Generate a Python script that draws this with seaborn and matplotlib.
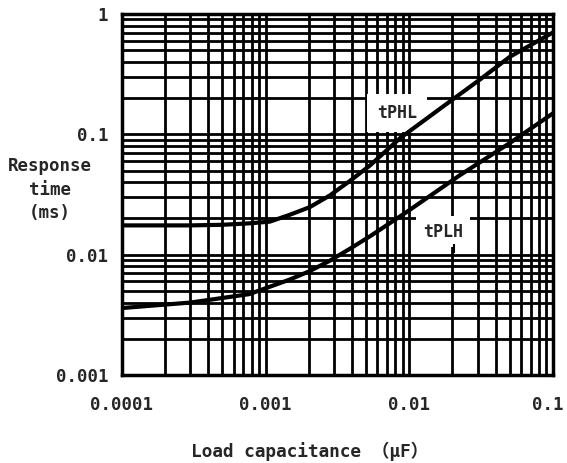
import matplotlib
matplotlib.use("Agg")
import matplotlib.pyplot as plt
import matplotlib.ticker as mticker
import matplotlib.transforms as mtransforms
import seaborn as sns
import pandas as pd
import numpy as np

# Data
tphl_x = [1e-4, 3e-4, 5e-4, 7.7e-4, 1.07e-3, 1.47e-3, 2.03e-3, 2.8e-3, 3.87e-3,
          5.33e-3, 8.65e-3, 1.64e-2, 3.11e-2, 5.02e-2, 0.1]
tphl_y = [0.0175, 0.0175, 0.0177, 0.0182, 0.0188, 0.0214, 0.0248, 0.031, 0.041,
          0.055, 0.093, 0.163, 0.285, 0.44, 0.70]
tplh_x = [1e-4, 3e-4, 7.7e-4, 1.47e-3, 2.03e-3, 2.8e-3, 3.87e-3, 5.33e-3, 9.6e-3,
          2.26e-2, 5.02e-2, 0.1]
tplh_y = [0.0036, 0.0040, 0.0047, 0.0062, 0.0073, 0.0089, 0.0112, 0.0142, 0.0226,
          0.0458, 0.0846, 0.149]
series_names = ["tPHL", "tPLH"]
x_ticks = [0.0001, 0.001, 0.01, 0.1]
x_tick_labels = ["0.0001", "0.001", "0.01", "0.1"]
y_ticks = [0.001, 0.01, 0.1, 1]
y_tick_labels = ["0.001", "0.01", "0.1", "1"]

# annotation positions (layout)
tphl_label_pos = (0.0082, 0.149)
tplh_label_pos = (0.0172, 0.0155)
tplh_leader_x = 0.0205
tplh_leader_y = (0.0104, 0.0123)

df = pd.concat([
    pd.DataFrame({"C": tphl_x, "t": tphl_y, "s": series_names[0]}),
    pd.DataFrame({"C": tplh_x, "t": tplh_y, "s": series_names[1]}),
])

sns.set_style("white")
FONT = ["DejaVu Sans Mono", "Noto Sans CJK JP"]
plt.rcParams["font.family"] = FONT

fig = plt.figure(figsize=(5.67, 4.63), dpi=100)
ax = fig.add_axes([0.215, 0.190, 0.760, 0.780])

ax.set_xscale("log")
ax.set_yscale("log")
ax.set_xlim(1e-4, 0.1)
ax.set_ylim(1e-3, 1)

sns.lineplot(data=df, x="C", y="t", units="s", estimator=None, color="black",
             linewidth=3.0, legend=False, ax=ax, zorder=6, sort=False)

ax.xaxis.set_major_locator(mticker.FixedLocator(x_ticks))
ax.yaxis.set_major_locator(mticker.FixedLocator(y_ticks))
ax.xaxis.set_minor_locator(mticker.LogLocator(base=10, subs=np.arange(2, 10)))
ax.yaxis.set_minor_locator(mticker.LogLocator(base=10, subs=np.arange(2, 10)))
ax.xaxis.set_minor_formatter(mticker.NullFormatter())
ax.yaxis.set_minor_formatter(mticker.NullFormatter())
ax.set_xticklabels(x_tick_labels)
ax.set_yticklabels(y_tick_labels)
ax.grid(True, which="both", color="black", linewidth=2.0)
ax.tick_params(which="both", length=0)
ax.tick_params(axis="x", pad=15, labelsize=12.5)
ax.tick_params(axis="y", pad=10, labelsize=12.5)
for lab in ax.get_xticklabels() + ax.get_yticklabels():
    lab.set_fontweight("bold")
# keep the last x label inside the figure
last = ax.get_xticklabels()[-1]
last.set_transform(last.get_transform() +
                   mtransforms.ScaledTranslation(-5 / 100, 0, fig.dpi_scale_trans))
for sp in ax.spines.values():
    sp.set_linewidth(2.5)
    sp.set_color("black")

ax.set_xlabel("")
ax.set_ylabel("")
fig.text(0.547, 0.013, "Load capacitance （μF）", ha="center", va="baseline",
         fontsize=12.8, fontweight="bold")
fig.text(0.088, 0.59, "Response\ntime\n(ms)", ha="center", va="center",
         fontsize=12.5, fontweight="bold", linespacing=1.4)

ax.text(*tphl_label_pos, series_names[0], fontsize=12, fontweight="bold", ha="center",
        va="center", zorder=4,
        bbox=dict(boxstyle="square,pad=0.6", fc="white", ec="none"))
ax.text(*tplh_label_pos, series_names[1], fontsize=12, fontweight="bold", ha="center",
        va="center", zorder=4,
        bbox=dict(boxstyle="square,pad=0.4", fc="white", ec="none"))
ax.vlines(tplh_leader_x, *tplh_leader_y, color="black", linewidth=1.5, zorder=5)

fig.savefig("out.png", dpi=100)
